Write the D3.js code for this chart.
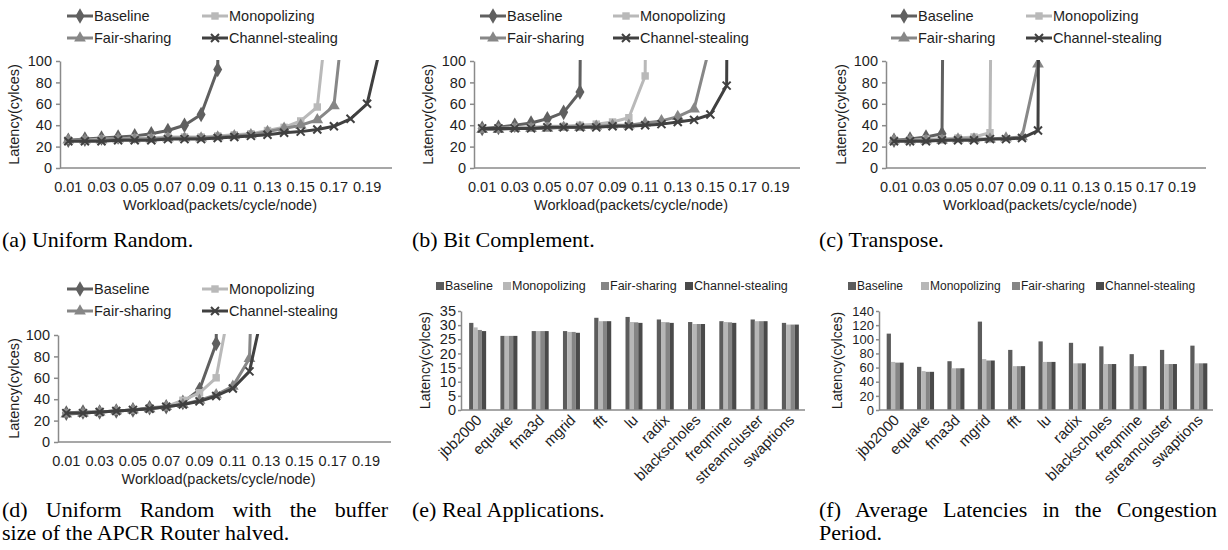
<!DOCTYPE html>
<html>
<head>
<meta charset="utf-8">
<script src="https://cdn.jsdelivr.net/npm/d3@7"></script>
<style>
body { margin: 0; background: #fff; }
text { font-family: "Liberation Sans", Arial, sans-serif; fill: #1e1e1e; }
text.cap { font-family: "Liberation Serif", "Times New Roman", serif; fill: #000; }
</style>
</head>
<body>
<script>
// ---- data ----
var seriesNames = ["Baseline", "Monopolizing", "Fair-sharing", "Channel-stealing"];
var workload = ["0.01","0.02","0.03","0.04","0.05","0.06","0.07","0.08","0.09","0.10",
                "0.11","0.12","0.13","0.14","0.15","0.16","0.17","0.18","0.19","0.20"];
var latencyTicks = [0, 20, 40, 60, 80, 100];

// (a) uniform random (values past 100 are off the chart)
var uniBaseline = [26, 27, 28, 29, 30, 32, 35, 40, 50, 92, 1500];
var uniMono     = [26, 26, 27, 27, 28, 28, 29, 29, 29, 30, 31, 32, 35, 38, 44, 57, 200];
var uniFair     = [26, 26, 26, 27, 27, 27, 28, 28, 28, 29, 30, 31, 34, 37, 40, 45, 58, 200];
var uniSteal    = [25, 25, 25, 26, 26, 26, 27, 27, 27, 28, 29, 30, 31, 33, 34, 36, 39, 46, 60, 126];

// (b) bit complement
var bitBaseline = [37, 38, 40, 42, 46, 52, 71, 2000];
var bitMono     = [37, 37, 38, 38, 39, 39, 40, 41, 43, 47, 86, 2000];
var bitFair     = [36, 36, 37, 37, 37, 38, 38, 39, 40, 40, 42, 44, 48, 55, 116];
var bitSteal    = [37, 37, 37, 37, 38, 38, 38, 38, 39, 39, 40, 41, 43, 45, 50, 77, 3000];

// (c) transpose
var trBaseline = [26, 27, 29, 32, 2000];
var trMono     = [26, 26, 27, 27, 28, 29, 33, 2000];
var trFair     = [26, 26, 26, 26, 27, 27, 27, 28, 29, 97, 2000];
var trSteal    = [25, 25, 25, 26, 26, 26, 27, 27, 28, 35, 3000];

// (d) uniform random, halved buffer
var halfBaseline = [27, 28, 28, 29, 30, 32, 33, 37, 49, 92, 1500];
var halfMono     = [27, 27, 28, 29, 30, 31, 33, 39, 46, 60, 143];
var halfFair     = [26, 27, 28, 29, 30, 31, 33, 35, 39, 44, 52, 78, 600];
var halfSteal    = [27, 27, 28, 29, 30, 31, 33, 35, 38, 43, 50, 66, 137];

// (e) real applications / (f) congestion period
var apps = ["jbb2000", "equake", "fma3d", "mgrid", "fft", "lu", "radix",
            "blackscholes", "freqmine", "streamcluster", "swaptions"];
var realBaseline = [30.8, 26.2, 27.9, 27.9, 32.6, 32.9, 32.0, 31.1, 31.4, 32.0, 30.8];
var realMono     = [29.2, 26.2, 27.9, 27.6, 31.4, 31.1, 31.1, 30.4, 31.1, 31.4, 30.2];
var realFair     = [28.3, 26.2, 27.9, 27.6, 31.4, 31.0, 31.0, 30.4, 31.0, 31.4, 30.2];
var realSteal    = [27.9, 26.2, 27.9, 27.3, 31.4, 30.8, 30.8, 30.4, 30.8, 31.4, 30.2];
var realTicks = [0, 5, 10, 15, 20, 25, 30, 35];

var congBaseline = [108, 61, 69, 125, 85, 97, 95, 90, 79, 85, 91];
var congMono     = [68, 55, 59, 72, 62, 68, 66, 65, 62, 65, 66];
var congFair     = [67, 54, 59, 70, 62, 68, 66, 65, 62, 65, 66];
var congSteal    = [67, 54, 59, 70, 62, 68, 66, 65, 62, 65, 66];
var congTicks = [0, 20, 40, 60, 80, 100, 120, 140];

var lineColors = ["#606060", "#b9b9b9", "#878787", "#404040"];
var barColors  = ["#5c5c5c", "#b7b7b7", "#858585", "#4a4a4a"];
var axisColor = "#8a8a8a";

var svg = d3.select("body")
    .append("svg")
    .attr("width", 1228)
    .attr("height", 550);

function markerPath(i) {
    if (i === 0) return d3.symbol(d3.symbolDiamond, 70)();
    if (i === 1) return d3.symbol(d3.symbolSquare, 55)();
    if (i === 2) return d3.symbol(d3.symbolTriangle, 60)();
    return "M-4,-4L4,4M4,-4L-4,4";
}

function drawMarker(g, i, px, py) {
    var m = g.append("path")
        .attr("d", markerPath(i))
        .attr("transform", "translate(" + px + "," + py + ")");
    if (i === 3) m.attr("fill", "none").attr("stroke", lineColors[i]).attr("stroke-width", 2);
    else m.attr("fill", lineColors[i]);
}

function styleAxis(g) {
    g.select(".domain").attr("stroke", axisColor).attr("stroke-width", 1.5);
    g.selectAll(".tick line").attr("stroke", axisColor).attr("stroke-width", 1.5);
    g.selectAll(".tick text").attr("fill", "#1e1e1e");
}

function caption(x, y, lines, width) {
    lines.forEach(function (s, k) {
        var t = svg.append("text")
            .attr("class", "cap")
            .attr("x", x)
            .attr("y", y + k * 23)
            .style("font-size", "22px")
            .text(s);
        // first line of a two-line caption is justified
        if (width && k === 0 && lines.length > 1) {
            var len = t.node().getComputedTextLength();
            var gaps = s.split(" ").length - 1;
            t.attr("word-spacing", (width - len) / gaps);
        }
    });
}

function yTitle(x, cy, size) {
    svg.append("text")
        .attr("transform", "translate(" + x + "," + cy + ") rotate(-90)")
        .attr("text-anchor", "middle")
        .attr("dy", "0.35em")
        .style("font-size", size + "px")
        .text("Latency(cylces)");
}

function lineChart(o) {
    var g = svg.append("g");
    var x = d3.scaleBand().domain(workload).range([o.x0, o.x1]);
    var y = d3.scaleLinear().domain([0, 100]).range([o.yBot, o.yTop]);
    var cx = function (i) { return x(workload[i]) + x.bandwidth() / 2; };

    svg.append("clipPath").attr("id", "clip-" + o.key)
        .append("rect")
        .attr("x", o.x0)
        .attr("y", o.yTop - 1)
        .attr("width", o.x1 - o.x0)
        .attr("height", o.yBot - o.yTop + 1);

    g.append("g")
        .attr("transform", "translate(" + o.x0 + ",0)")
        .call(d3.axisLeft(y).tickValues(latencyTicks).tickSize(4).tickSizeOuter(0).tickPadding(4))
        .call(styleAxis)
        .selectAll("text").style("font-size", "14.5px").attr("font-family", null);

    g.append("line")
        .attr("x1", o.x0).attr("x2", o.x1)
        .attr("y1", o.yBot).attr("y2", o.yBot)
        .attr("stroke", axisColor).attr("stroke-width", 1.5);

    g.selectAll(".xlab")
        .data(workload.filter(function (d, i) { return i % 2 === 0; }))
        .enter().append("text")
        .attr("x", function (d) { return x(d) + x.bandwidth() / 2; })
        .attr("y", o.yBot + 24)
        .attr("text-anchor", "middle")
        .style("font-size", "14.5px")
        .text(function (d) { return d; });

    g.append("text")
        .attr("x", (o.x0 + o.x1) / 2 - 6)
        .attr("y", o.yBot + 42)
        .attr("text-anchor", "middle")
        .style("font-size", "14.5px")
        .text("Workload(packets/cycle/node)");

    yTitle(o.titleX, (o.yTop + o.yBot) / 2, 14.5);

    var pg = g.append("g").attr("clip-path", "url(#clip-" + o.key + ")");
    o.series.forEach(function (vals, si) {
        var pts = vals.map(function (v, i) { return [cx(i), y(v)]; });
        pg.append("path")
            .attr("d", d3.line()(pts))
            .attr("fill", "none")
            .attr("stroke", lineColors[si])
            .attr("stroke-width", 3)
            .attr("stroke-linejoin", "round");
        pts.forEach(function (p, i) {
            if (vals[i] <= 100) drawMarker(pg, si, p[0], p[1]);
        });
    });

    // legend: two columns, two rows
    seriesNames.forEach(function (name, si) {
        var lx = o.legendX[si % 2];
        var ly = o.legendY + Math.floor(si / 2) * 22;
        g.append("line")
            .attr("x1", lx).attr("x2", lx + 26)
            .attr("y1", ly).attr("y2", ly)
            .attr("stroke", lineColors[si]).attr("stroke-width", 3);
        drawMarker(g, si, lx + 13, ly);
        g.append("text")
            .attr("x", lx + 27)
            .attr("y", ly)
            .attr("dy", "0.35em")
            .style("font-size", "14.5px")
            .text(name);
    });
}

function barChart(o) {
    var g = svg.append("g");
    var x = d3.scaleBand().domain(apps).range([o.x0, o.x1]);
    var inner = d3.scaleBand().domain(seriesNames).range([-8.5, 8.5]);
    var y = d3.scaleLinear().domain([0, o.ticks[o.ticks.length - 1]]).range([o.yBot, o.yTop]);

    g.append("g")
        .attr("transform", "translate(" + o.x0 + ",0)")
        .call(d3.axisLeft(y).tickValues(o.ticks).tickSize(3).tickSizeOuter(0).tickPadding(2))
        .call(styleAxis)
        .selectAll("text").style("font-size", o.tickSize + "px").attr("font-family", null);

    o.series.forEach(function (vals, si) {
        g.selectAll(".bar" + si)
            .data(vals)
            .enter().append("rect")
            .attr("x", function (d, i) { return x(apps[i]) + x.bandwidth() / 2 + 1 + inner(seriesNames[si]); })
            .attr("y", function (d) { return y(d); })
            .attr("width", inner.bandwidth())
            .attr("height", function (d) { return o.yBot - y(d); })
            .attr("fill", barColors[si]);
    });

    g.append("line")
        .attr("x1", o.x0).attr("x2", o.x1)
        .attr("y1", o.yBot).attr("y2", o.yBot)
        .attr("stroke", axisColor).attr("stroke-width", 1.5);

    g.selectAll(".cat")
        .data(apps)
        .enter().append("text")
        .attr("transform", function (d) {
            return "translate(" + (x(d) + x.bandwidth() / 2 + 6) + "," + (o.yBot + 11) + ") rotate(-45)";
        })
        .attr("text-anchor", "end")
        .style("font-size", "15px")
        .text(function (d) { return d; });

    yTitle(o.titleX, (o.yTop + o.yBot) / 2, 14);

    seriesNames.forEach(function (name, si) {
        var tx = o.legendX[si];
        g.append("rect")
            .attr("x", tx - 9).attr("y", o.legendY - 4)
            .attr("width", 8).attr("height", 8)
            .attr("fill", barColors[si]);
        g.append("text")
            .attr("x", tx)
            .attr("y", o.legendY)
            .attr("dy", "0.35em")
            .style("font-size", o.legendSize + "px")
            .text(name);
    });
}

lineChart({ key: "a", x0: 60, x1: 392, yTop: 61, yBot: 168, titleX: 14,
    legendX: [67, 202], legendY: 16,
    series: [uniBaseline, uniMono, uniFair, uniSteal] });
lineChart({ key: "b", x0: 474, x1: 800, yTop: 61, yBot: 168, titleX: 428,
    legendX: [480, 613], legendY: 16,
    series: [bitBaseline, bitMono, bitFair, bitSteal] });
lineChart({ key: "c", x0: 886, x1: 1206, yTop: 61, yBot: 168, titleX: 841,
    legendX: [891, 1026], legendY: 16,
    series: [trBaseline, trMono, trFair, trSteal] });
lineChart({ key: "d", x0: 58, x1: 391, yTop: 335, yBot: 442, titleX: 14,
    legendX: [67, 202], legendY: 289,
    series: [halfBaseline, halfMono, halfFair, halfSteal] });

barChart({ x0: 461, x1: 805, yTop: 311, yBot: 410, titleX: 425,
    ticks: realTicks, tickSize: 14.5, legendX: [445, 512, 610, 694], legendY: 286, legendSize: 12.5,
    series: [realBaseline, realMono, realFair, realSteal] });
barChart({ x0: 879, x1: 1213, yTop: 311, yBot: 410, titleX: 837,
    ticks: congTicks, tickSize: 13, legendX: [857, 930, 1021, 1105], legendY: 286, legendSize: 12,
    series: [congBaseline, congMono, congFair, congSteal] });

caption(2, 247, ["(a) Uniform Random."]);
caption(412, 247, ["(b) Bit Complement."]);
caption(819, 247, ["(c) Transpose."]);
caption(2, 517, ["(d) Uniform Random with the buffer", "size of the APCR Router halved."], 386);
caption(412, 517, ["(e) Real Applications."]);
caption(819, 517, ["(f) Average Latencies in the Congestion", "Period."], 398);
</script>
</body>
</html>
